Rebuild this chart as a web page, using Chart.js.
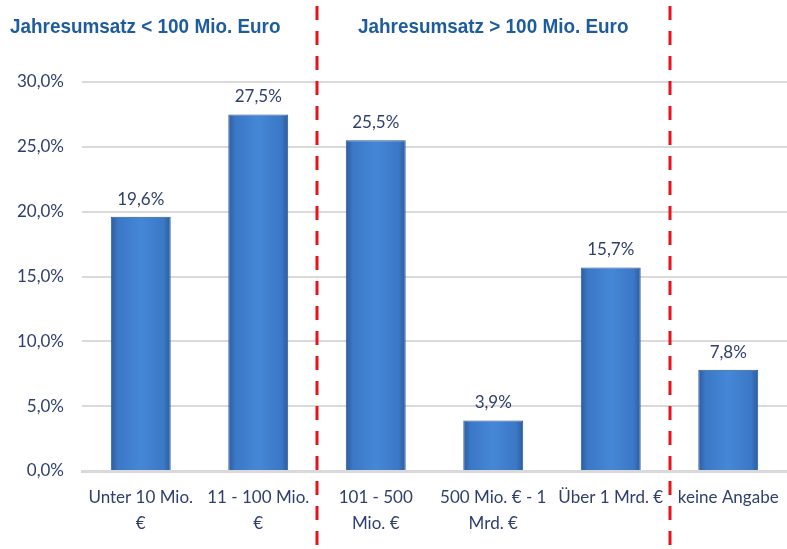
<!DOCTYPE html>
<html>
<head>
<meta charset="utf-8">
<script src="https://cdn.jsdelivr.net/npm/chart.js@4/dist/chart.umd.min.js"></script>
<style>
  html, body { margin: 0; padding: 0; background: #fff; }
  #wrap { width: 787px; height: 549px; }
</style>
</head>
<body>
<div id="wrap"><canvas id="chart"></canvas></div>
<script>
const categories = [
  ['Unter 10 Mio.', '€'],
  ['11 - 100 Mio.', '€'],
  ['101 - 500', 'Mio. €'],
  ['500 Mio. € - 1', 'Mrd. €'],
  'Über 1 Mrd. €',
  'keine Angabe',
];
const shares = [19.6, 27.5, 25.5, 3.9, 15.7, 7.8];
const groupTitles = ['Jahresumsatz < 100 Mio. Euro', 'Jahresumsatz > 100 Mio. Euro'];
const dividerAfter = [1, 4];

const textColor = '#2E3F6E';
const titleColor = '#1E5C9B';
const barPct = 0.51;
const fmt = v => v.toFixed(1).replace('.', ',') + '%';

// horizontal shading per bar, darker at the edges
function barFill(c) {
  const xs = c.chart.scales.x;
  if (!xs || !xs.width) return '#3F7DCB';
  const half = xs.width / categories.length * barPct / 2;
  const cx = xs.getPixelForValue(c.dataIndex);
  const g = c.chart.ctx.createLinearGradient(cx - half, 0, cx + half, 0);
  g.addColorStop(0, '#2C5C9E');
  g.addColorStop(0.12, '#3B78C6');
  g.addColorStop(0.5, '#4587D7');
  g.addColorStop(0.88, '#3B78C6');
  g.addColorStop(1, '#2C5C9E');
  return g;
}

const decorPlugin = {
  id: 'decor',
  afterDatasetsDraw(chart) {
    const ctx = chart.ctx;
    const meta = chart.getDatasetMeta(0);
    ctx.save();
    ctx.fillStyle = textColor;
    ctx.font = '17px Lato, "Open Sans", sans-serif';
    ctx.textAlign = 'center';
    ctx.textBaseline = 'bottom';
    meta.data.forEach((bar, i) => {
      ctx.fillText(fmt(shares[i]), bar.x, bar.y - 9);
    });
    ctx.restore();
  },
  afterDraw(chart) {
    const ctx = chart.ctx;
    const xs = chart.scales.x;
    ctx.save();
    ctx.strokeStyle = '#E8131B';
    ctx.lineWidth = 3;
    ctx.setLineDash([14, 11]);
    const divX = dividerAfter.map(i => (xs.getPixelForValue(i) + xs.getPixelForValue(i + 1)) / 2);
    divX.forEach(x => {
      ctx.beginPath();
      ctx.moveTo(Math.round(x), 6);
      ctx.lineTo(Math.round(x), chart.height);
      ctx.stroke();
    });
    ctx.setLineDash([]);
    ctx.fillStyle = titleColor;
    ctx.font = 'bold 21px "Liberation Sans", Arial, sans-serif';
    ctx.textBaseline = 'middle';
    ctx.textAlign = 'left';
    ctx.save();
    ctx.translate(10, 27);
    ctx.scale(0.9, 1);
    ctx.fillText(groupTitles[0], 0, 0);
    ctx.restore();
    ctx.save();
    ctx.translate((divX[0] + divX[1]) / 2, 27);
    ctx.scale(0.9, 1);
    ctx.textAlign = 'center';
    ctx.fillText(groupTitles[1], 0, 0);
    ctx.restore();
    ctx.restore();
  }
};

new Chart(document.getElementById('chart'), {
  type: 'bar',
  data: {
    labels: categories,
    datasets: [{
      data: shares,
      backgroundColor: barFill,
      borderColor: '#2A5694',
      borderWidth: 1,
      barPercentage: barPct,
      categoryPercentage: 1,
    }],
  },
  options: {
    responsive: true,
    maintainAspectRatio: false,
    animation: false,
    layout: { padding: { top: 82, right: 0, left: 0, bottom: 7 } },
    plugins: {
      legend: { display: false },
      tooltip: { enabled: false },
    },
    scales: {
      x: {
        grid: { display: false },
        border: { display: true, color: '#D9D9D9', width: 3 },
        ticks: {
          color: textColor,
          font: { family: 'Lato', size: 17, lineHeight: 1.5 },
          maxRotation: 0,
          autoSkip: false,
          padding: 6,
        },
      },
      y: {
        min: 0,
        max: 30,
        afterFit: s => { s.width = 82; },
        grid: { color: '#DADADA', lineWidth: 2, drawTicks: false },
        border: { display: false },
        ticks: {
          stepSize: 5,
          color: textColor,
          font: { family: 'Lato', size: 17 },
          padding: 18,
          callback: v => fmt(v),
        },
      },
    },
  },
  plugins: [decorPlugin],
});
</script>
</body>
</html>
